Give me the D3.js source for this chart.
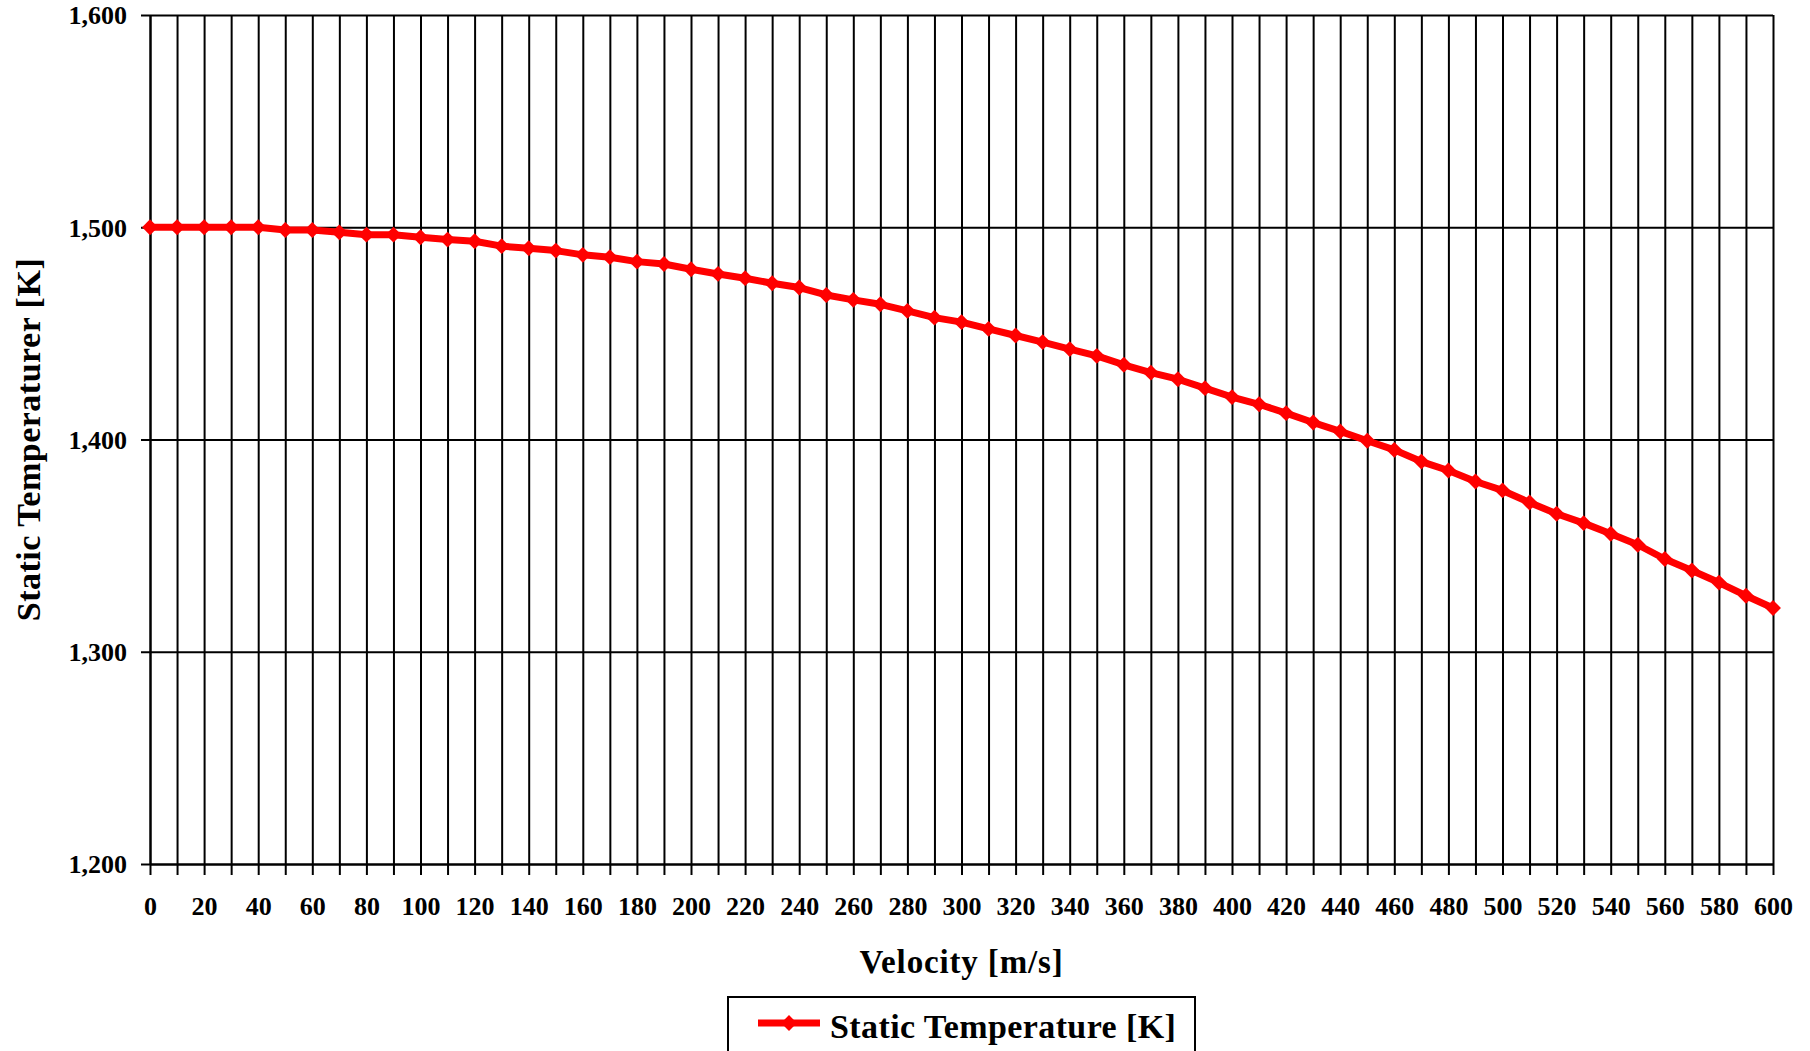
<!DOCTYPE html>
<html>
<head>
<meta charset="utf-8">
<script src="https://cdn.jsdelivr.net/npm/d3@7"></script>
<style>
  html, body { margin: 0; padding: 0; background: #fff; }
  svg { display: block; }
  text { font-family: "Liberation Serif", "Times New Roman", serif; font-weight: bold; fill: #000; }
</style>
</head>
<body>
<svg id="chart" width="1810" height="1051"></svg>
<script>
// ---- data ----
const velocity = [0,10,20,30,40,50,60,70,80,90,100,110,120,130,140,150,160,170,180,190,
  200,210,220,230,240,250,260,270,280,290,300,310,320,330,340,350,360,370,380,390,
  400,410,420,430,440,450,460,470,480,490,500,510,520,530,540,550,560,570,580,590,600];
const staticTemperature = [1500.0,1500.0,1500.0,1500.0,1500.0,1498.7,1498.7,1497.6,1496.5,1496.5,
  1495.3,1494.2,1493.4,1491.1,1490.1,1489.0,1487.0,1485.9,1483.8,1482.7,
  1480.2,1478.0,1476.0,1473.6,1471.6,1468.1,1465.8,1463.7,1460.6,1457.4,
  1455.3,1452.1,1449.0,1445.9,1442.6,1439.4,1435.2,1431.5,1428.4,1424.2,
  1420.0,1416.6,1412.4,1408.0,1403.8,1399.4,1395.1,1389.6,1385.4,1380.2,
  1376.0,1370.3,1365.0,1360.6,1355.6,1350.4,1343.7,1338.3,1332.6,1326.4,1320.6];
const xTickLabels = [0,20,40,60,80,100,120,140,160,180,200,220,240,260,280,300,
  320,340,360,380,400,420,440,460,480,500,520,540,560,580,600];
const yTickValues = [1200,1300,1400,1500,1600];
const seriesName = "Static Temperature [K]";
const xTitle = "Velocity [m/s]";
const yTitle = "Static Temperaturer [K]";

// ---- layout ----
const svg = d3.select("#chart");
const L = 150, R = 1773, T = 15, B = 864;
const x = d3.scaleLinear().domain([0, 600]).range([L, R]);
const y = d3.scaleLinear().domain([1200, 1600]).range([B, T]);
const fmt = d3.format(",");

// vertical grid lines (every 10)
const vgrid = svg.append("g").attr("transform", `translate(0,${B})`)
  .call(d3.axisBottom(x).tickValues(velocity).tickSize(-(B - T)).tickSizeOuter(0).tickFormat(""));
vgrid.select(".domain").remove();
vgrid.selectAll("line").attr("stroke", "#000").attr("stroke-width", 2);

// horizontal grid lines
const hgrid = svg.append("g").attr("transform", `translate(${L},0)`)
  .call(d3.axisLeft(y).tickValues(yTickValues).tickSize(-(R - L)).tickSizeOuter(0).tickFormat(""));
hgrid.select(".domain").remove();
hgrid.selectAll("line").attr("stroke", "#000").attr("stroke-width", 2);

// x axis with ticks below
const xAxis = svg.append("g").attr("transform", `translate(0,${B})`)
  .call(d3.axisBottom(x).tickValues(velocity).tickSize(11).tickSizeOuter(0)
    .tickFormat(d => xTickLabels.includes(d) ? fmt(d) : ""));
xAxis.select(".domain").attr("stroke", "#000").attr("stroke-width", 2);
xAxis.selectAll("line").attr("stroke", "#000").attr("stroke-width", 2);
xAxis.selectAll("text").attr("y", 51).attr("dy", null)
  .style("font-size", "26px").attr("fill", "#000");

// y axis
const yAxis = svg.append("g").attr("transform", `translate(${L},0)`)
  .call(d3.axisLeft(y).tickValues(yTickValues).tickSize(9).tickSizeOuter(0).tickFormat(fmt));
yAxis.select(".domain").attr("stroke", "#000").attr("stroke-width", 2);
yAxis.selectAll("line").attr("stroke", "#000").attr("stroke-width", 2);
yAxis.selectAll("text").attr("x", -23).attr("dy", "0.34em")
  .style("font-size", "26px").attr("fill", "#000");

// titles
svg.append("text").attr("x", (L + R) / 2).attr("y", 973).attr("text-anchor", "middle")
  .style("font-size", "33px").style("letter-spacing", "0.85px").text(xTitle);
svg.append("text").attr("transform", `translate(40,${(T + B) / 2}) rotate(-90)`)
  .attr("text-anchor", "middle").style("font-size", "34px").style("letter-spacing", "0.5px").text(yTitle);

// series
const pts = velocity.map((v, i) => [v, staticTemperature[i]]);
svg.append("path").datum(pts)
  .attr("fill", "none").attr("stroke", "#FF0000").attr("stroke-width", 7)
  .attr("stroke-linejoin", "round")
  .attr("d", d3.line().x(d => x(d[0])).y(d => y(d[1])));

const diamond = d3.symbol().type(d3.symbolDiamond2 || d3.symbolSquare).size(d3.symbolDiamond2 ? 160 : 128)();
const markerRot = d3.symbolDiamond2 ? 0 : 45;
svg.append("g").selectAll("path").data(pts).join("path")
  .attr("transform", d => `translate(${x(d[0])},${y(d[1])}) rotate(${markerRot})`)
  .attr("d", diamond).attr("fill", "#FF0000");

// legend
const lg = svg.append("g");
lg.append("rect").attr("x", 728).attr("y", 997).attr("width", 467).attr("height", 90)
  .attr("fill", "#fff").attr("stroke", "#000").attr("stroke-width", 2);
lg.append("line").attr("x1", 758).attr("x2", 820).attr("y1", 1023).attr("y2", 1023)
  .attr("stroke", "#FF0000").attr("stroke-width", 7);
lg.append("path").attr("transform", `translate(789,1023) rotate(${markerRot})`)
  .attr("d", diamond).attr("fill", "#FF0000");
lg.append("text").attr("x", 830).attr("y", 1038).style("font-size", "34px")
  .style("letter-spacing", "0.4px").text(seriesName);
</script>
</body>
</html>
